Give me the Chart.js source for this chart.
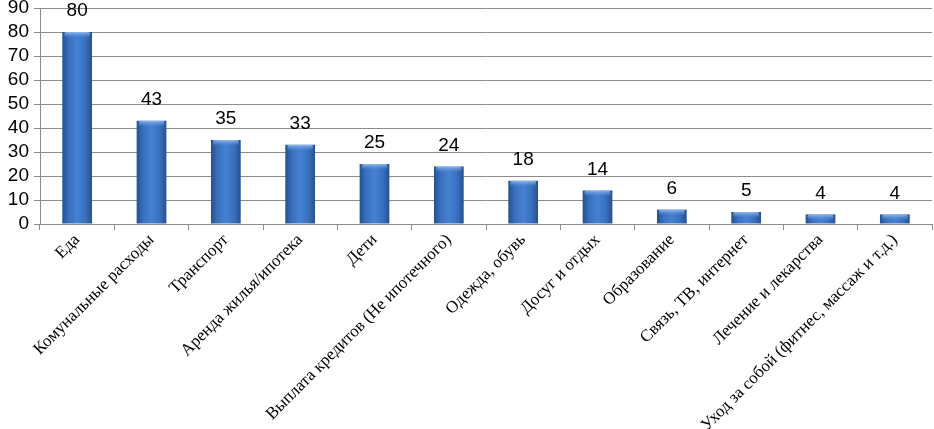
<!DOCTYPE html>
<html>
<head>
<meta charset="utf-8">
<script src="https://cdn.jsdelivr.net/npm/chart.js@4/dist/chart.umd.min.js"></script>
<style>
  html, body { margin: 0; padding: 0; background: #fff; overflow: hidden; }
  #wrap { width: 934px; height: 429px; }
</style>
</head>
<body>
<div id="wrap"><canvas id="costs-chart"></canvas></div>
<script>
const categories = [
    'Еда',
    'Комунальные расходы',
    'Транспорт',
    'Аренда жилья/ипотека',
    'Дети',
    'Выплата кредитов (Не ипотечного)',
    'Одежда, обувь',
    'Досуг и отдых',
    'Образование',
    'Связь, ТВ, интернет',
    'Лечение и лекарства',
    'Уход за собой (фитнес, массаж и т.д.)'
];
const values = [80, 43, 35, 33, 25, 24, 18, 14, 6, 5, 4, 4];
const yTicks = [0, 10, 20, 30, 40, 50, 60, 70, 80, 90];

const gridColor = '#8c8c8c';

// cylinder-ish fill, darker at the sides
function barFill(ctx) {
    let chart = ctx.chart;
    let xScale = chart.scales.x;
    if (!xScale || ctx.dataIndex === undefined) return '#3a74c4';
    let cx = xScale.getPixelForValue(ctx.dataIndex);
    let half = xScale.width / categories.length * 0.4 / 2;
    if (!isFinite(cx) || !isFinite(half) || half <= 0) return '#3a74c4';
    let g = chart.ctx.createLinearGradient(cx - half, 0, cx + half, 0);
    g.addColorStop(0, '#24518f');
    g.addColorStop(0.22, '#3870be');
    g.addColorStop(0.5, '#4681d2');
    g.addColorStop(0.78, '#3870be');
    g.addColorStop(1, '#24518f');
    return g;
}

const barDecor = {
    id: 'barDecor',
    afterDatasetsDraw(chart) {
        let ctx = chart.ctx;
        let meta = chart.getDatasetMeta(0);
        ctx.save();
        meta.data.forEach((bar, i) => {
            let half = bar.width / 2;
            // light band on top of the bar
            let g = ctx.createLinearGradient(0, bar.y, 0, bar.y + 6);
            g.addColorStop(0, 'rgba(150,190,240,0.95)');
            g.addColorStop(1, 'rgba(90,140,215,0)');
            ctx.fillStyle = g;
            ctx.beginPath();
            ctx.roundRect(bar.x - half + 2, bar.y, half * 2 - 4, 6, 2);
            ctx.fill();

            ctx.fillStyle = '#000';
            ctx.font = '19px "Liberation Sans", Arial, sans-serif';
            ctx.textAlign = 'center';
            ctx.textBaseline = 'middle';
            ctx.fillText(String(values[i]), bar.x, bar.y - 21);
        });
        ctx.restore();
    }
};

let canvas = document.getElementById('costs-chart');
let costsChart = new Chart(canvas, {
    type: 'bar',
    data: {
        labels: categories,
        datasets: [{
            data: values,
            backgroundColor: barFill,
            borderWidth: 0,
            barPercentage: 0.4,
            categoryPercentage: 1.0
        }]
    },
    options: {
        responsive: true,
        maintainAspectRatio: false,
        animation: false,
        layout: {
            padding: { top: 0, right: 2, left: 0, bottom: 0 }
        },
        plugins: {
            legend: { display: false },
            tooltip: { enabled: false }
        },
        scales: {
            x: {
                offset: true,
                grid: {
                    offset: true,
                    drawOnChartArea: false,
                    color: gridColor,
                    tickLength: 6
                },
                border: { color: gridColor },
                ticks: {
                    autoSkip: false,
                    maxRotation: 45,
                    minRotation: 45,
                    color: '#000',
                    padding: 0,
                    font: { family: '"Liberation Serif", "Times New Roman", serif', size: 17 }
                },
                afterFit: s => { s.height = 205; }
            },
            y: {
                min: 0,
                max: 90,
                afterBuildTicks: s => { s.ticks = yTicks.map(v => ({ value: v })); },
                grid: {
                    color: gridColor,
                    tickLength: 6
                },
                border: { color: gridColor },
                ticks: {
                    autoSkip: false,
                    color: '#000',
                    padding: 5,
                    font: { family: '"Liberation Sans", Arial, sans-serif', size: 19 }
                },
                afterFit: s => { s.width = 40; s.paddingTop = 8; }
            }
        }
    },
    plugins: [barDecor]
});
window.costsChart = costsChart;
</script>
</body>
</html>
